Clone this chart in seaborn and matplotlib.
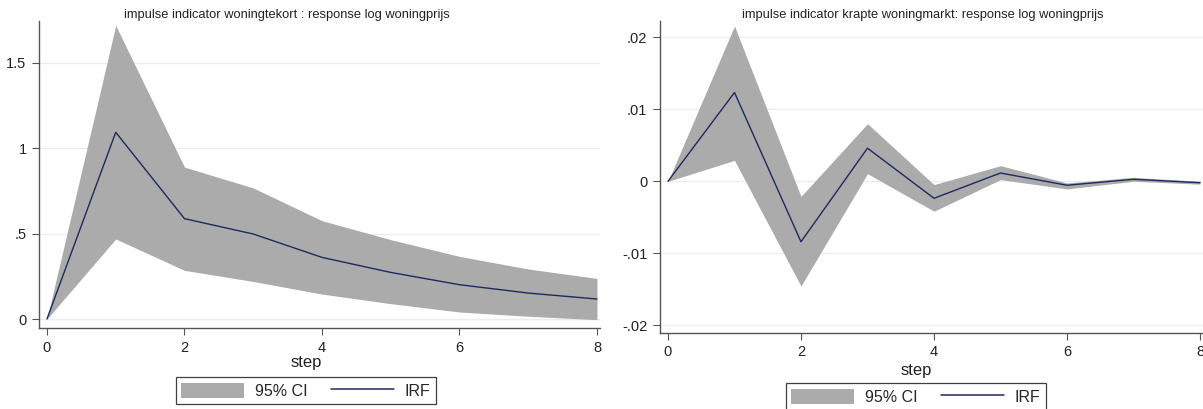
import numpy as np
import pandas as pd
import seaborn as sns
import matplotlib.pyplot as plt
from matplotlib.patches import Patch
from matplotlib.lines import Line2D

# step 0..8
steps = [0, 1, 2, 3, 4, 5, 6, 7, 8]

# impulse woningtekort -> log woningprijs
irf_tekort = [0, 1.094, 0.588, 0.498, 0.361, 0.273, 0.201, 0.152, 0.117]
upper_tekort = [0, 1.72, 0.89, 0.768, 0.576, 0.465, 0.367, 0.293, 0.238]
lower_tekort = [0, 0.469, 0.285, 0.22, 0.146, 0.09, 0.041, 0.016, -0.004]

# impulse krapte woningmarkt -> log woningprijs
irf_krapte = [0, 0.01233, -0.0084, 0.0046, -0.00236, 0.00115, -0.00055, 0.00028, -0.0002]
upper_krapte = [0, 0.02157, -0.0021, 0.0080, -0.00046, 0.00217, -0.00023, 0.00055, 0.0]
lower_krapte = [0, 0.0029, -0.01455, 0.00106, -0.00416, 0.00023, -0.00106, 0.0, -0.0004]

yticks_tekort = [0, 0.5, 1, 1.5]
ylabels_tekort = ['0', '.5', '1', '1.5']
yticks_krapte = [-0.02, -0.01, 0, 0.01, 0.02]
ylabels_krapte = ['-.02', '-.01', '0', '.01', '.02']
xticks = [0, 2, 4, 6, 8]

titles = ['impulse indicator woningtekort : response log woningprijs',
          'impulse indicator krapte woningmarkt: response log woningprijs']

CI_COLOR = '#ababab'
IRF_COLOR = '#1f2a5c'
W, H = 1203, 409

sns.set_style('white')
plt.rcParams['font.family'] = ['Liberation Sans', 'DejaVu Sans']

fig = plt.figure(figsize=(W / 100, H / 100), dpi=100)


def panel(rect, irf, lo, hi, yticks, ylabels, xlim, ylim):
    ax = fig.add_axes(rect)
    df = pd.DataFrame({'step': steps, 'irf': irf, 'lo': lo, 'hi': hi})
    ax.fill_between(df['step'], df['lo'], df['hi'], color=CI_COLOR, lw=0, zorder=2)
    sns.lineplot(data=df, x='step', y='irf', ax=ax, color=IRF_COLOR, lw=1.0, zorder=3)
    ax.set_xlim(*xlim)
    ax.set_ylim(*ylim)
    ax.set_xticks(xticks)
    ax.set_xticklabels([str(t) for t in xticks])
    ax.set_yticks(yticks)
    ax.set_yticklabels(ylabels)
    for y in yticks:
        ax.axhline(y, color='#ececec', lw=0.9, zorder=1)
    for s in ['top', 'right']:
        ax.spines[s].set_visible(False)
    for s in ['left', 'bottom']:
        ax.spines[s].set_color('#555555')
        ax.spines[s].set_linewidth(1.0)
    ax.tick_params(axis='both', bottom=True, left=True, direction='out', length=5,
                   width=0.8, color='#555555', labelsize=10.5, labelcolor='#222222', pad=4)
    ax.set_xlabel('')
    ax.set_ylabel('')
    return ax


ax1 = panel([39 / W, 1 - 328 / H, 561 / W, 307 / H],
            irf_tekort, lower_tekort, upper_tekort,
            yticks_tekort, ylabels_tekort, (-0.116, 8.044), (-0.0527, 1.746))
ax2 = panel([660 / W, 1 - 333 / H, 543 / W, 312 / H],
            irf_krapte, lower_krapte, upper_krapte,
            yticks_krapte, ylabels_krapte, (-0.12, 8.045), (-0.02107, 0.02226))

fig.text(287 / W, 1 - 15 / H, titles[0], ha='center', va='center', fontsize=9.3, color='#222222')
fig.text(923 / W, 1 - 15 / H, titles[1], ha='center', va='center', fontsize=9.3, color='#222222')
fig.text(306 / W, 1 - 363 / H, 'step', ha='center', va='center', fontsize=12, color='#222222')
fig.text(916 / W, 1 - 370 / H, 'step', ha='center', va='center', fontsize=12, color='#222222')

handles = [Patch(facecolor=CI_COLOR, edgecolor='none', label='95% CI'),
           Line2D([0], [0], color=IRF_COLOR, lw=1.1, label='IRF')]
for cx, top in [(306, 377), (916, 383)]:
    leg = fig.legend(handles=handles, loc='upper center', ncol=2,
                     bbox_to_anchor=(cx / W, 1 - top / H), frameon=True,
                     fancybox=False, fontsize=11.5, handlelength=3.9, handleheight=1.1,
                     columnspacing=1.5, handletextpad=0.7, borderpad=0.35,
                     borderaxespad=0)
    leg.get_frame().set_edgecolor('#111111')
    leg.get_frame().set_linewidth(0.9)

fig.savefig('out.png', dpi=100)
